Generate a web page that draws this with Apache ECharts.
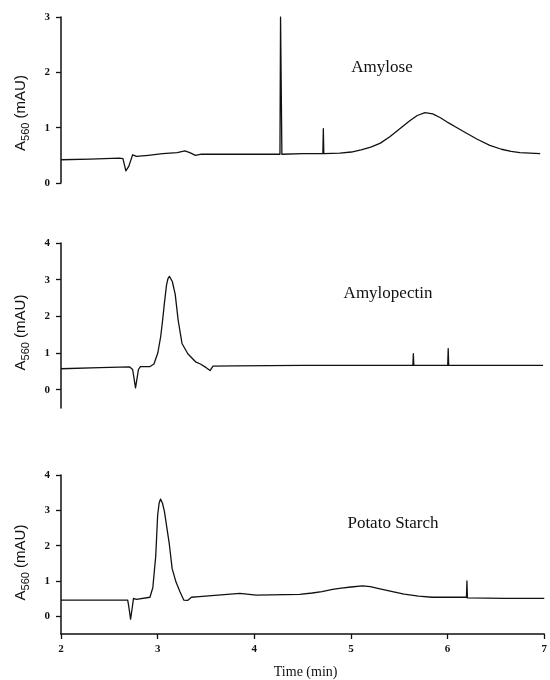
<!DOCTYPE html>
<html>
<head>
<meta charset="utf-8">
<script src="https://cdn.jsdelivr.net/npm/echarts@6/dist/echarts.min.js"></script>
<style>
html,body{margin:0;padding:0;background:#fff;}
#chart{width:550px;height:680px;}
</style>
</head>
<body>
<div id="chart"></div>
<script>
// ---- Data (time in min, absorbance A560 in mAU) ----
const panelTitles = ['Amylose', 'Amylopectin', 'Potato Starch'];
const xTicks = [2, 3, 4, 5, 6, 7];
const yTicksAmylose = [0, 1, 2, 3];
const yTicksOther = [0, 1, 2, 3, 4];

const amyloseT = [2.0, 2.3, 2.6, 2.64, 2.67, 2.70, 2.74, 2.78, 2.9, 3.05, 3.2, 3.28, 3.33, 3.39, 3.45, 3.7, 4.0, 4.262, 4.268, 4.276, 4.282, 4.5, 4.705, 4.71, 4.715, 4.88, 5.0, 5.1, 5.2, 5.3, 5.4, 5.5, 5.6, 5.68, 5.76, 5.84, 5.92, 6.0, 6.1, 6.19, 6.3, 6.43, 6.55, 6.65, 6.74, 6.95];
const amyloseA = [0.42, 0.43, 0.45, 0.44, 0.22, 0.30, 0.51, 0.48, 0.50, 0.53, 0.55, 0.58, 0.55, 0.50, 0.52, 0.52, 0.52, 0.52, 3.0, 3.0, 0.52, 0.53, 0.53, 0.98, 0.53, 0.54, 0.56, 0.60, 0.65, 0.72, 0.84, 0.98, 1.12, 1.22, 1.27, 1.25, 1.18, 1.09, 0.99, 0.90, 0.79, 0.68, 0.61, 0.57, 0.55, 0.53];

const amylopectinT = [2.0, 2.4, 2.71, 2.74, 2.77, 2.80, 2.82, 2.92, 2.96, 3.0, 3.03, 3.05, 3.07, 3.09, 3.105, 3.12, 3.135, 3.15, 3.18, 3.21, 3.25, 3.31, 3.39, 3.44, 3.5, 3.54, 3.57, 3.8, 4.5, 5.635, 5.64, 5.645, 5.995, 6.0, 6.005, 6.5, 6.98];
const amylopectinA = [0.57, 0.60, 0.62, 0.55, 0.05, 0.55, 0.63, 0.63, 0.70, 1.00, 1.45, 1.90, 2.40, 2.85, 3.03, 3.09, 3.05, 2.95, 2.60, 1.90, 1.26, 0.98, 0.76, 0.70, 0.60, 0.52, 0.64, 0.65, 0.66, 0.66, 0.98, 0.66, 0.66, 1.12, 0.66, 0.66, 0.66];

const potatoT = [2.0, 2.69, 2.70, 2.72, 2.74, 2.75, 2.78, 2.92, 2.95, 2.98, 3.0, 3.015, 3.03, 3.05, 3.07, 3.12, 3.15, 3.19, 3.23, 3.27, 3.31, 3.35, 3.43, 3.85, 4.02, 4.47, 4.6, 4.7, 4.81, 4.9, 5.0, 5.12, 5.2, 5.3, 5.43, 5.55, 5.7, 5.84, 6.195, 6.2, 6.205, 6.6, 7.0];
const potatoA = [0.46, 0.46, 0.30, -0.08, 0.30, 0.51, 0.48, 0.54, 0.81, 1.70, 2.86, 3.20, 3.32, 3.20, 2.97, 2.06, 1.35, 0.97, 0.70, 0.46, 0.45, 0.54, 0.56, 0.65, 0.60, 0.62, 0.66, 0.70, 0.76, 0.80, 0.83, 0.86, 0.84, 0.78, 0.70, 0.63, 0.57, 0.54, 0.54, 1.00, 0.52, 0.51, 0.51];

function pairs(t, a) { return t.map((v, i) => [v, a[i]]); }

const serif = 'Liberation Serif';
const sans = 'Liberation Sans';
const ink = '#111';

const grids = [
  {left: 61, right: 5, top: 17, height: 166},
  {left: 61, right: 5, top: 243, height: 165},
  {left: 61, right: 5, top: 475, height: 166.5}
];

function yAxisFor(i, min, max, ticks, shiftDown) {
  return {
    type: 'value', gridIndex: i, min: min, max: max,
    splitLine: {show: false},
    axisLine: {show: true, lineStyle: {color: ink, width: 1.5}},
    axisTick: {show: true, length: 5, inside: false, lineStyle: {color: ink, width: 1.3}, customValues: ticks},
    axisLabel: {show: true, margin: 11, color: ink, fontFamily: serif, fontWeight: 'bold', fontSize: 11, customValues: ticks},
    name: '{a|A}{s|560}{a| (mAU)}',
    nameLocation: 'middle',
    nameRotate: 90,
    nameGap: 30,
    nameTextStyle: {
      padding: [0, shiftDown * 2, 0, 0],
      rich: {
        a: {fontFamily: sans, fontSize: 15, color: ink, lineHeight: 20, verticalAlign: 'middle'},
        s: {fontFamily: sans, fontSize: 11, color: ink, lineHeight: 20, verticalAlign: 'bottom'}
      }
    }
  };
}

function xAxisFor(i, visible) {
  return {
    type: 'value', gridIndex: i, min: 2, max: 7, interval: 1,
    show: visible,
    splitLine: {show: false},
    axisLine: {show: visible, onZero: false, lineStyle: {color: ink, width: 1.5}},
    axisTick: {show: visible, length: 5, lineStyle: {color: ink, width: 1.3}},
    axisLabel: {show: visible, margin: 10, color: ink, fontFamily: serif, fontWeight: 'bold', fontSize: 11},
    name: visible ? 'Time (min)' : '',
    nameLocation: 'middle',
    nameGap: 31,
    nameTextStyle: {fontFamily: serif, fontSize: 14, color: ink, padding: [0, 0, 0, 6]}
  };
}

const lineStyle = {color: ink, width: 1.3, join: 'round'};

function seriesFor(i, data) {
  return {
    type: 'line', xAxisIndex: i, yAxisIndex: i, data: data,
    showSymbol: false, symbol: 'none', lineStyle: lineStyle, smooth: false
  };
}

const option = {
  backgroundColor: '#fff',
  animation: false,
  title: [
    {text: panelTitles[0], left: 377, top: 54, textAlign: 'center', textStyle: {fontFamily: serif, fontSize: 17, fontWeight: 'normal', color: ink}},
    {text: panelTitles[1], left: 383, top: 280, textAlign: 'center', textStyle: {fontFamily: serif, fontSize: 17, fontWeight: 'normal', color: ink}},
    {text: panelTitles[2], left: 388, top: 510, textAlign: 'center', textStyle: {fontFamily: serif, fontSize: 17, fontWeight: 'normal', color: ink}}
  ],
  grid: grids,
  xAxis: [xAxisFor(0, false), xAxisFor(1, false), xAxisFor(2, true)],
  yAxis: [
    yAxisFor(0, 0, 3, yTicksAmylose, 13),
    yAxisFor(1, -0.5, 4, yTicksOther, 7),
    yAxisFor(2, -0.5, 4, yTicksOther, 8)
  ],
  series: [
    seriesFor(0, pairs(amyloseT, amyloseA)),
    seriesFor(1, pairs(amylopectinT, amylopectinA)),
    seriesFor(2, pairs(potatoT, potatoA))
  ]
};

const chart = echarts.init(document.getElementById('chart'), null, {renderer: 'canvas'});
chart.setOption(option);
</script>
</body>
</html>
